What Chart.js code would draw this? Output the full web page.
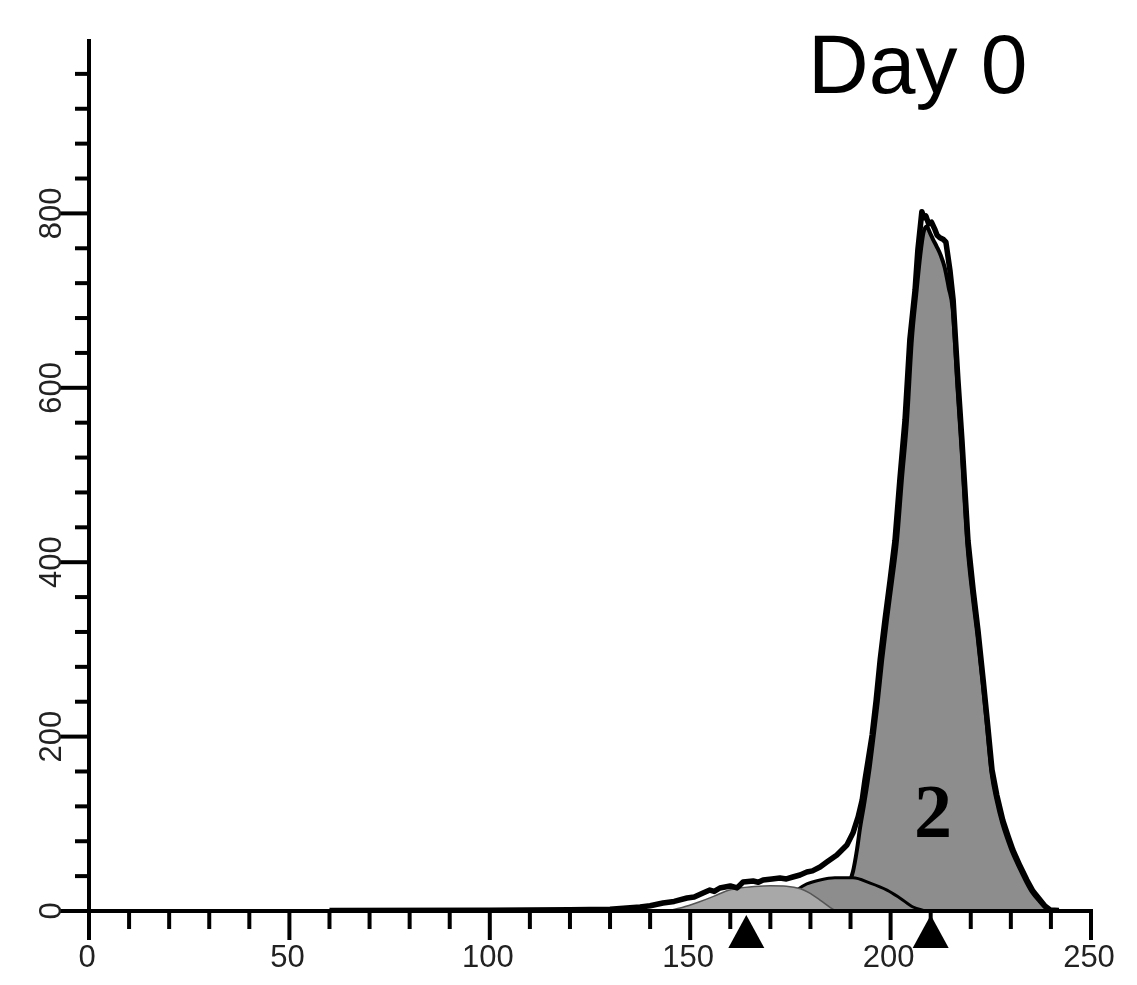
<!DOCTYPE html>
<html><head><meta charset="utf-8">
<script src="https://cdn.jsdelivr.net/npm/chart.js@4.4.1/dist/chart.umd.min.js"></script>
<style>html,body{margin:0;padding:0;background:#fff;}#wrap{width:1137px;height:985px;}</style>
</head><body><div id="wrap"><canvas id="c" width="1137" height="985"></canvas></div>
<script>
// ---- text / ticks ----
const chartTitle = 'Day 0';
const peakLabel = '2';
const xTickLabels = [0, 50, 100, 150, 200, 250];
const yTickLabels = [0, 200, 400, 600, 800];
const xMinorStep = 10;
const yMinorStep = 40;
const xMax = 250;
const yMax = 1000;
const markerChannels = [164, 210];

// ---- raw histogram (black outline) ----
const rawX = [60, 100, 120, 130, 137.5, 140, 143.2, 146, 149.2, 151, 153.2, 154.9, 156, 157.4, 160, 161.7, 163.2, 165.7, 167, 168.2, 170.4, 172.4, 174, 175.6, 177.4, 179.1, 180.5, 182.4, 184.1, 186.6, 189.1, 190.6, 191.9, 192.9, 193.6, 194.4, 195.4, 196.4, 197.4, 198.6, 199.9, 201.1, 202.3, 203.6, 204.8, 206.1, 206.8, 207.8, 208.3, 208.8, 209.5, 210.2, 211.1, 211.6, 212.3, 213.2, 213.8, 214.8, 215.6, 216.8, 217.8, 219.3, 220.6, 221.8, 223.1, 224.1, 225.3, 226.5, 228, 229.3, 230.5, 232.3, 234, 235.5, 237.3, 238.5, 239.8, 242];
const rawY = [0.5, 1, 1.5, 2, 4.6, 6, 9.2, 11, 14.9, 16, 20.6, 24, 22.5, 26.4, 28.7, 26.5, 33.3, 34.4, 33, 35.6, 36.7, 37.8, 36.8, 39, 41.3, 44.7, 46, 50.5, 56.2, 64.2, 75.7, 89.4, 108, 127, 150, 173, 202, 242, 288, 334, 380, 425, 494, 563, 655, 712, 758, 802, 795, 797, 788, 790, 781, 775, 772, 770, 767, 735, 701, 609, 540, 425, 368, 322, 265, 219, 162, 133, 104, 86, 70, 51.6, 35.6, 22.9, 12.6, 5.7, 1.1, 0.5];

// ---- main fitted peak "2" ----
const peakX = [186.1, 188.6, 190.6, 191.6, 192.4, 193.3, 194, 194.8, 195.7, 196.8, 197.9, 199.1, 200.4, 201.6, 202.8, 204.1, 205.3, 206.5, 207.4, 208.2, 209, 209.8, 210.6, 211.5, 212.5, 213.5, 214.5, 215.5, 216.7, 217.7, 219.2, 220.5, 221.7, 223, 224, 225.2, 226.4, 227.9, 229.2, 230.4, 232.2, 233.9, 235.4, 237.2, 238.4, 239.6];
const peakY = [0, 18, 45, 70, 96, 120, 140, 165, 198, 240, 288, 334, 380, 425, 494, 563, 655, 712, 752, 778, 785, 778, 770, 762, 752, 738, 715, 690, 600, 530, 418, 360, 315, 260, 214, 158, 128, 100, 82, 67, 49, 33, 21, 11, 5, 0];

// ---- second component (dark grey hump) ----
const humpX = [169.9, 173.7, 176.6, 179.1, 182.4, 186.1, 190.6, 194.9, 199.1, 202.3, 205.6, 208.6];
const humpY = [0, 12.6, 24, 31, 35.6, 38, 38, 32, 24, 15, 4.6, 0];

// ---- third component (light grey hump) ----
const lightX = [144, 148, 152, 156, 159, 162, 166, 170, 174, 177.5, 179.6, 182.4, 185.6, 186.5];
const lightY = [0, 4, 10, 17, 23, 26, 28, 29, 28.5, 25.5, 21, 12.6, 2, 0];

const pts = (xs, ys) => xs.map((x, i) => ({x, y: ys[i]}));

const axesPlugin = {
  id: 'customAxes',
  afterDatasetsDraw(chart) {
    const {ctx, scales: {x, y}} = chart;
    const x0 = x.getPixelForValue(0), y0 = y.getPixelForValue(0);
    const xEnd = x.getPixelForValue(xMax), yTop = y.getPixelForValue(yMax);
    ctx.save();
    ctx.strokeStyle = '#000';
    ctx.fillStyle = '#000';
    ctx.lineCap = 'butt';
    ctx.lineWidth = 4;
    // axis lines
    ctx.beginPath();
    ctx.moveTo(x0, yTop); ctx.lineTo(x0, y0);
    ctx.moveTo(x0, y0); ctx.lineTo(xEnd + 2, y0);
    ctx.stroke();
    // x ticks
    for (let v = 0; v <= xMax + 0.001; v += xMinorStep) {
      const px = x.getPixelForValue(v);
      const major = xTickLabels.includes(v);
      ctx.beginPath();
      ctx.moveTo(px, y0); ctx.lineTo(px, y0 + (major ? 29 : 18));
      ctx.stroke();
    }
    // y ticks
    for (let v = 0; v < yMax - 0.001; v += yMinorStep) {
      const py = y.getPixelForValue(v);
      const major = yTickLabels.includes(v);
      ctx.beginPath();
      ctx.moveTo(x0, py); ctx.lineTo(x0 - (major ? 30 : 14), py);
      ctx.stroke();
    }
    // labels
    ctx.fillStyle = '#222';
    ctx.font = '31px "Liberation Sans", Arial, sans-serif';
    ctx.textAlign = 'center';
    ctx.textBaseline = 'middle';
    xTickLabels.forEach(v => {
      ctx.fillText(String(v), x.getPixelForValue(v) - 2, y0 + 47);
    });
    yTickLabels.forEach(v => {
      ctx.save();
      ctx.translate(x0 - 37, y.getPixelForValue(v));
      ctx.rotate(-Math.PI / 2);
      ctx.fillText(String(v), 0, 0);
      ctx.restore();
    });
    // triangle markers
    ctx.fillStyle = '#000';
    markerChannels.forEach(v => {
      const px = x.getPixelForValue(v);
      ctx.beginPath();
      ctx.moveTo(px, y0 + 4);
      ctx.lineTo(px + 18, y0 + 37);
      ctx.lineTo(px - 18, y0 + 37);
      ctx.closePath();
      ctx.fill();
    });
    // peak label
    ctx.font = 'bold 76px "Liberation Serif", "Times New Roman", serif';
    ctx.textAlign = 'center';
    ctx.textBaseline = 'alphabetic';
    ctx.fillText(peakLabel, x.getPixelForValue(210.6), y.getPixelForValue(85));
    // title
    ctx.font = '84px "Liberation Sans", Arial, sans-serif';
    ctx.textAlign = 'left';
    ctx.fillText(chartTitle, 808, 93);
    ctx.restore();
  }
};

new Chart(document.getElementById('c'), {
  type: 'scatter',
  data: {
    datasets: [
      {label: 'Raw', data: pts(rawX, rawY), showLine: true, borderColor: '#000', borderWidth: 5.5,
       pointRadius: 0, fill: false, tension: 0, order: 0},
      {label: 'Light', data: pts(lightX, lightY), showLine: true, borderColor: '#555', borderWidth: 1.5,
       backgroundColor: '#a8a8a8', fill: 'origin', cubicInterpolationMode: 'monotone', pointRadius: 0, order: 1},
      {label: 'Hump', data: pts(humpX, humpY), showLine: true, borderColor: '#000', borderWidth: 3,
       backgroundColor: '#8d8d8d', fill: 'origin', cubicInterpolationMode: 'monotone', pointRadius: 0, order: 2},
      {label: 'Peak', data: pts(peakX, peakY), showLine: true, borderColor: '#000', borderWidth: 4,
       backgroundColor: '#8d8d8d', fill: 'origin', cubicInterpolationMode: 'monotone', pointRadius: 0, order: 3}
    ]
  },
  options: {
    responsive: false,
    animation: false,
    devicePixelRatio: 1,
    layout: {padding: {left: 89, right: 46, top: 39, bottom: 74}},
    scales: {
      x: {type: 'linear', min: 0, max: xMax, display: false},
      y: {type: 'linear', min: 0, max: yMax, display: false}
    },
    plugins: {legend: {display: false}, tooltip: {enabled: false}, title: {display: false}},
    elements: {line: {borderJoinStyle: 'round'}}
  },
  plugins: [axesPlugin]
});
</script>
</body></html>
